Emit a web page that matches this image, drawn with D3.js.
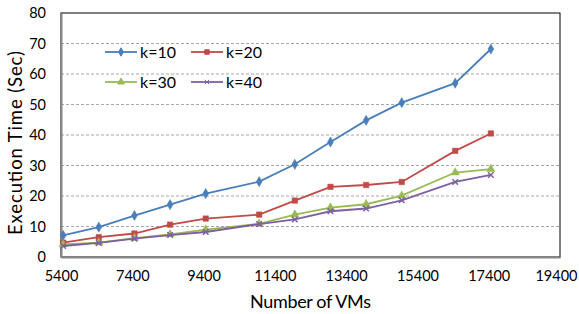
<!DOCTYPE html>
<html>
<head>
<meta charset="utf-8">
<script src="https://cdn.jsdelivr.net/npm/d3@7"></script>
<style>
  body { margin: 0; background: #fff; }
  text { font-family: Lato, "Open Sans", sans-serif; fill: #000; }
</style>
</head>
<body>
<div id="chart"></div>
<script>
const vms = [5460, 6460, 7460, 8460, 9460, 10960, 11960, 12960, 13960, 14960, 16460, 17460];
const k10 = [7.1, 9.8, 13.6, 17.2, 20.8, 24.7, 30.4, 37.7, 44.8, 50.6, 57.0, 68.2];
const k20 = [4.7, 6.5, 7.7, 10.6, 12.6, 13.9, 18.5, 23.0, 23.6, 24.6, 34.8, 40.5];
const k30 = [4.1, 4.7, 6.2, 7.4, 9.0, 10.9, 13.9, 16.2, 17.3, 20.1, 27.7, 28.8];
const k40 = [3.6, 4.6, 6.0, 7.2, 8.2, 10.8, 12.3, 15.0, 15.9, 18.6, 24.6, 26.9];
const seriesNames = ['k=10', 'k=20', 'k=30', 'k=40'];
const xTicks = [5400, 7400, 9400, 11400, 13400, 15400, 17400, 19400];
const yTicks = [0, 10, 20, 30, 40, 50, 60, 70, 80];

const width = 579, height = 314;
const margin = {top: 13, right: 20, bottom: 57, left: 61};
const colors = ['#4a7ebb', '#be4b48', '#98b954', '#7d60a0'];
const shapes = [d3.symbolDiamond, d3.symbolSquare, d3.symbolTriangle, d3.symbolX];

const series = [k10, k20, k30, k40].map((vals, i) => ({
  name: seriesNames[i],
  color: colors[i],
  shape: shapes[i],
  points: vals.map((v, j) => ({x: vms[j], y: v}))
}));

const x = d3.scaleLinear().domain([5400, 19400]).range([margin.left, width - margin.right + 1]);
const y = d3.scaleLinear().domain([0, 80]).range([height - margin.bottom, margin.top]);

const svg = d3.select('#chart').append('svg')
  .attr('width', width)
  .attr('height', height);

// gridlines
svg.append('g')
  .selectAll('line')
  .data(yTicks.filter(d => d > 0 && d < 80))
  .enter().append('line')
  .attr('x1', x.range()[0]).attr('x2', x.range()[1])
  .attr('y1', d => y(d)).attr('y2', d => y(d))
  .attr('stroke', '#a6a6a6')
  .attr('stroke-dasharray', '3,2');

// plot border
svg.append('rect')
  .attr('x', x.range()[0]).attr('y', y(80))
  .attr('width', x.range()[1] - x.range()[0])
  .attr('height', y(0) - y(80))
  .attr('fill', 'none')
  .attr('stroke', '#000');

// axes
const xAxis = svg.append('g')
  .attr('transform', 'translate(0,' + y(0) + ')')
  .call(d3.axisBottom(x).tickValues(xTicks).tickFormat(d3.format('d')).tickSize(0).tickPadding(14));
const yAxis = svg.append('g')
  .attr('transform', 'translate(' + x.range()[0] + ',0)')
  .call(d3.axisLeft(y).tickValues(yTicks).tickSize(0).tickPadding(15));

[xAxis, yAxis].forEach(a => {
  a.select('.domain').attr('stroke', '#868686').attr('stroke-width', 2);
  a.selectAll('text').style('font-size', '14.5px').style('font-family', 'Lato, sans-serif');
});
// keep the last label inside the page
xAxis.selectAll('text').filter(d => d === 19400)
  .attr('text-anchor', 'end')
  .attr('x', width - 2 - x(19400));

svg.append('text')
  .attr('x', (x.range()[0] + x.range()[1]) / 2)
  .attr('y', 308)
  .attr('text-anchor', 'middle')
  .attr('textLength', 121)
  .attr('lengthAdjust', 'spacing')
  .style('font-size', '18px')
  .text('Number of VMs');

svg.append('text')
  .attr('transform', 'translate(22,' + ((y(0) + y(80)) / 2 + 8) + ') rotate(-90)')
  .attr('text-anchor', 'middle')
  .attr('textLength', 184)
  .attr('lengthAdjust', 'spacing')
  .style('font-size', '18.5px')
  .text('Execution Time (Sec)');

// lines
const line = d3.line().x(d => x(d.x)).y(d => y(d.y));

const g = svg.selectAll('.series')
  .data(series)
  .enter().append('g');

g.append('path')
  .attr('d', d => line(d.points))
  .attr('fill', 'none')
  .attr('stroke', d => d.color)
  .attr('stroke-width', 1.8);

g.each(function(s) {
  d3.select(this).selectAll('.pt')
    .data(s.points)
    .enter().append('path')
    .attr('transform', d => 'translate(' + x(d.x) + ',' + y(d.y) + ')')
    .attr('d', d3.symbol().type(s.shape).size(s.shape === d3.symbolX ? 22 : 30))
    .attr('fill', s.color)
    .attr('stroke', s.color)
    .attr('stroke-width', s.shape === d3.symbolX ? 1.5 : 0.5);
});

// legend
const legend = svg.selectAll('.legend')
  .data(series)
  .enter().append('g')
  .attr('transform', (d, i) => 'translate(' + (105 + (i % 2) * 86) + ',' + (52 + Math.floor(i / 2) * 30) + ')');

legend.append('line')
  .attr('x1', 0).attr('x2', 32)
  .attr('stroke', d => d.color)
  .attr('stroke-width', 1.8);

legend.append('path')
  .attr('transform', 'translate(16,0)')
  .attr('d', d => d3.symbol().type(d.shape).size(d.shape === d3.symbolX ? 14 : 20)())
  .attr('fill', d => d.color)
  .attr('stroke', d => d.color);

legend.append('text')
  .attr('x', 35)
  .attr('dy', '0.35em')
  .style('font-size', '16px')
  .text(d => d.name);
</script>
</body>
</html>
